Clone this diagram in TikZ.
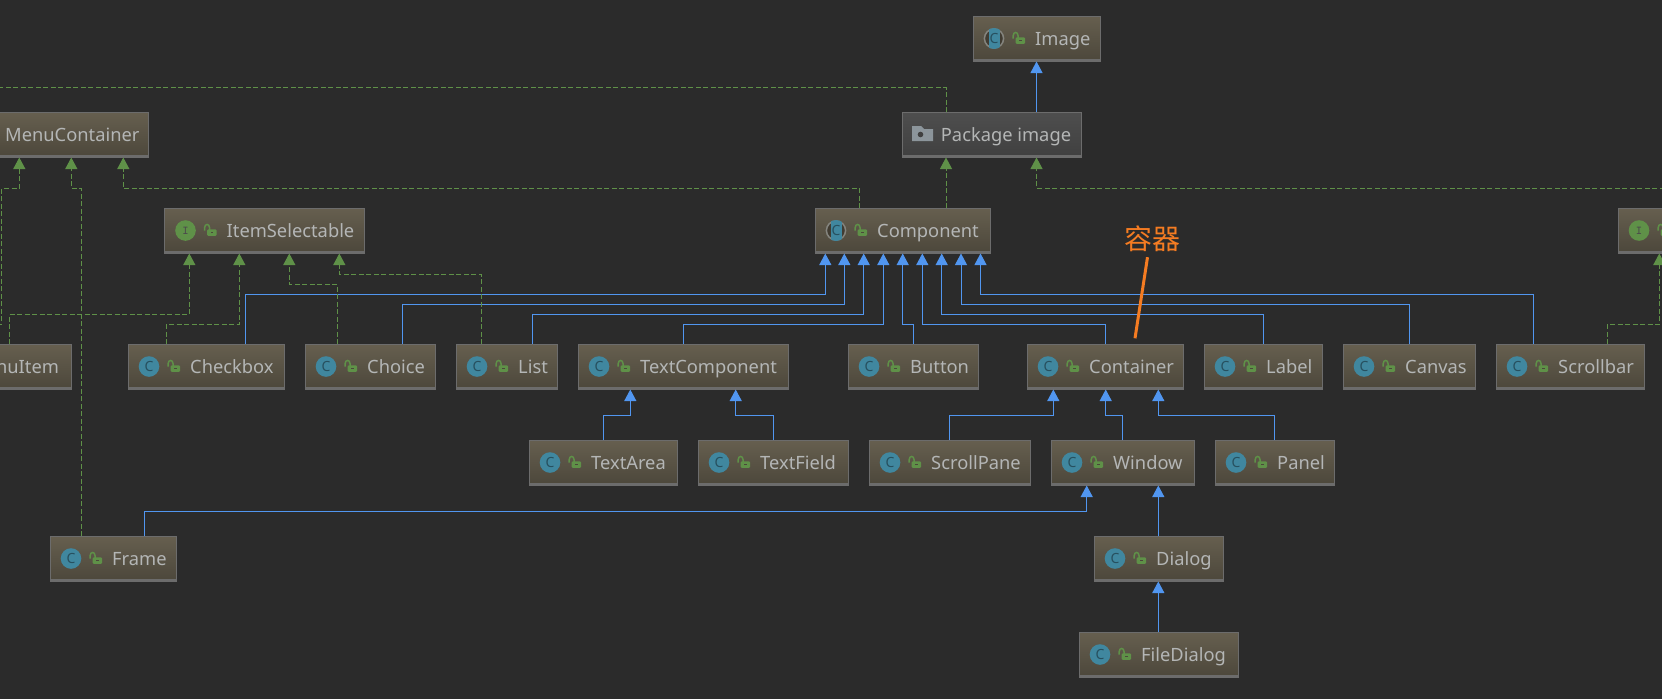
\documentclass[tikz,border=0pt]{standalone}
\usepackage{fontspec}
\setmainfont{Noto Sans}
\newfontfamily\cjk{Noto Sans CJK SC}
\usetikzlibrary{arrows.meta}
\definecolor{canvasbg}{HTML}{2B2B2B}
\definecolor{boxtop}{HTML}{665F4F}
\definecolor{boxbot}{HTML}{4C473B}
\definecolor{pkgtop}{HTML}{4E4E4E}
\definecolor{pkgbot}{HTML}{404040}
\definecolor{boxline}{HTML}{6C6C6C}
\definecolor{labelgrey}{HTML}{B4B6B6}
\definecolor{extblue}{HTML}{5196F0}
\definecolor{implgreen}{HTML}{5F9148}
\definecolor{classteal}{HTML}{40879F}
\definecolor{markdark}{HTML}{27505F}
\definecolor{notecol}{HTML}{F57C22}
\definecolor{ringgrey}{HTML}{85857F}
\definecolor{foldergrey}{HTML}{8C959B}

\begin{document}
\begin{tikzpicture}[x=1pt,y=-1pt,>=Stealth,
    umlbox/.style={draw=boxline,line width=1pt,top color=boxtop,bottom color=boxbot,
      minimum height=45pt,inner sep=0pt,outer sep=0pt,anchor=north west,
      path picture={\fill[boxline] (path picture bounding box.south west) rectangle ([yshift=2.5pt]path picture bounding box.south east);}},
    pkgbox/.style={umlbox,top color=pkgtop,bottom color=pkgbot},
    umllabel/.style={text=labelgrey,font=\fontsize{18.3}{19}\selectfont,inner sep=0pt,anchor=base west},
    extends/.style={draw=extblue,line width=1pt,-{Triangle[length=11.5pt,width=12pt,fill=extblue]},shorten >=0.5pt},
    implements/.style={draw=implgreen,line width=1pt,dash pattern=on 5pt off 2.5pt,-{Triangle[length=11.5pt,width=12pt,fill=implgreen]},shorten >=0.5pt},
    lockmark/.pic={
      \draw[implgreen,line width=1.5pt] (40.2,22.5)--(40.2,19.5) .. controls (40.2,15.5) and (45,15.5) .. (45,19.5)--(45,23);
      \fill[implgreen,rounded corners=1pt] (42.7,21.3) rectangle (52,27.8);
      \fill[boxbot] (46,24) rectangle (48.8,25.2);
    },
    classicon/.pic={
      \fill[classteal] (21,22.5) circle (10.3pt);
      \node[text=markdark,font=\fontsize{14}{14}\selectfont,inner sep=0pt] (-mark) at (21,22.5) {C};
      \pic {lockmark};
    },
    abstracticon/.pic={
      \fill[boxbot!85!black] (21,22.5) circle (10pt);
      \draw[ringgrey,line width=1.5pt] (21,22.5) circle (9.6pt);
      \begin{scope}
        \clip (21,22.5) circle (10.5pt);
        \fill[classteal] (15.5,10) rectangle (26.5,35);
      \end{scope}
      \node[text=markdark,font=\fontsize{14}{14}\selectfont,inner sep=0pt] (-mark) at (21,22.5) {C};
      \pic {lockmark};
    },
    ifaceicon/.pic={
      \fill[implgreen] (21,22.5) circle (10.3pt);
      \node[text=black!70,font=\fontsize{12}{12}\ttfamily\bfseries,inner sep=0pt] (-mark) at (21,22.5) {I};
      \pic {lockmark};
    }]
    \path[use as bounding box] (0,0) rectangle (1662,699);
    \clip (0,0) rectangle (1662,699);
    \fill[canvasbg] (0,0) rectangle (1662,699);
    % classes
    \foreach \boxname/\xl/\xr/\yt in {MenuItem/-93/71/344,Checkbox/128/284.5/344,Choice/305/435.6/344,List/456/557.6/344,
      TextComponent/578/788.5/344,Button/848/978.7/344,Container/1027/1183.7/344,Label/1204/1322.7/344,
      Canvas/1343/1475.7/344,Scrollbar/1496/1644.7/344,TextArea/529/677.7/440,TextField/698/848.7/440,
      ScrollPane/869/1030.7/440,Window/1051/1194.7/440,Panel/1215/1334.7/440,Frame/50/176.7/536,
      Dialog/1094/1223.7/536,FileDialog/1079/1238.7/632,MenuContainer/-57/148/112}{
      \node[umlbox,minimum width={(\xr-(\xl))*1pt}] (\boxname) at (\xl,\yt) {};
      \pic (\boxname-icon) at (\xl,\yt) {classicon};
      \node[umllabel] (\boxname-label) at (\xl+62,\yt+29.5) {\boxname};
    }
    % the same box with another icon
    \foreach \boxname/\xl/\xr/\yt in {Image/973/1100/16,Component/815/990/208}{
      \node[umlbox,minimum width={(\xr-\xl)*1pt}] (\boxname) at (\xl,\yt) {};
      \pic (\boxname-icon) at (\xl,\yt) {abstracticon};
      \node[umllabel] (\boxname-label) at (\xl+62,\yt+29.5) {\boxname};
    }
    \node[umlbox,minimum width=199.5pt] (ItemSelectable) at (164.5,208) {};
    \pic (ItemSelectable-icon) at (164.5,208) {ifaceicon};
    \node[umllabel] (ItemSelectable-label) at (226.5,237.5) {ItemSelectable};
    \node[umlbox,minimum width=80pt] (RightIface) at (1618,208) {};
    \pic (RightIface-icon) at (1618,208) {ifaceicon};
    \node[pkgbox,minimum width=179.7pt] (PackageImage) at (902,112) {};
    \fill[foldergrey] (912,126) -- (921,126) -- (924,129) -- (933,129) -- (933,141) -- (912,141) -- cycle;
    \fill[pkgbot] (920.5,134.5) circle (2.8pt);
    \node[umllabel] (PackageImage-label) at (940.7,141.5) {Package image};
    % free ends
    \coordinate (OffLeftTop) at (-10,87.5);
    \coordinate (OffLeftMid) at (-10,324.3);
    \coordinate (OffRight) at (1672,188.3);
    % inheritance: from, x at from, y of the bend, x at target, target
    \foreach \src/\fx/\my/\tx/\tgt in {PackageImage/1036.5/85/1036.5/Image,Checkbox/245.3/294.3/825.3/Component,
      Choice/402.3/304.3/844.3/Component,List/532.3/314.3/863.7/Component,TextComponent/683.3/324.3/883.3/Component,
      Button/913.3/324.3/902.7/Component,Container/1105.7/324.3/922.3/Component,Label/1263.3/314.3/941.7/Component,
      Canvas/1409.3/304.3/961/Component,Scrollbar/1533.3/294.3/980.5/Component,TextArea/603.3/415.3/630.3/TextComponent,
      TextField/773.3/415.3/735.7/TextComponent,ScrollPane/949.3/415.3/1053.3/Container,Window/1122.3/415.3/1105.7/Container,
      Panel/1274.3/415.3/1158.3/Container,Frame/144.3/511.3/1086.7/Window,Dialog/1158.3/510/1158.3/Window,
      FileDialog/1158.3/605/1158.3/Dialog}{
      \draw[extends] (\fx,0 |- \src.north) -- (\fx,\my) -- (\tx,\my) -- (\tx,0 |- \tgt.south);
    }
    % interfaces
    \foreach \src/\fx/\my/\tx/\tgt in {Component/946/180/946/PackageImage,Component/859.5/188.3/123.3/MenuContainer,
      Frame/81.3/188.3/71.3/MenuContainer,MenuItem/9.3/314.3/189.3/ItemSelectable,Checkbox/166.3/324.3/239.3/ItemSelectable,
      Choice/337.3/284.3/289.3/ItemSelectable,List/481.3/274.3/339.3/ItemSelectable,Scrollbar/1607.3/324.3/1659.3/RightIface}{
      \draw[implements] (\fx,0 |- \src.north) -- (\fx,\my) -- (\tx,\my) -- (\tx,0 |- \tgt.south);
    }
    \draw[implements] (OffRight) -| (1036.5,0 |- PackageImage.south);
    \draw[implements] (OffLeftMid) -- (1.7,324.3) |- (19.3,188.3) -- (19.3,0 |- MenuContainer.south);
    \draw[implements,-] (946,0 |- PackageImage.north) |- (OffLeftTop);
    % the note
    \node[text=notecol,font=\fontsize{28}{28}\cjk,inner sep=0pt] (Note) at (1152.5,239) {容器};
    \coordinate (NoteEnd) at (1135,338.3);
    \draw[notecol,line width=3pt] ([xshift=-5pt,yshift=-5pt]Note.south) -- (NoteEnd);
\end{tikzpicture}
\end{document}
